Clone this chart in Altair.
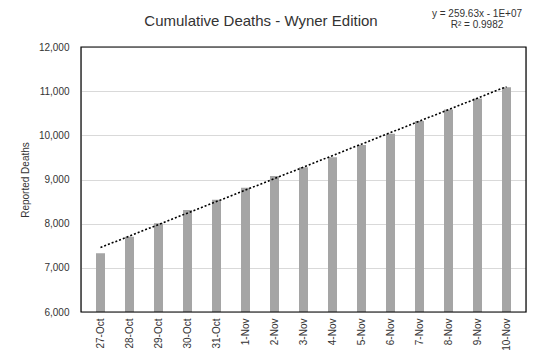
import altair as alt
import pandas as pd

days = ['27-Oct', '28-Oct', '29-Oct', '30-Oct', '31-Oct', '1-Nov', '2-Nov', '3-Nov',
        '4-Nov', '5-Nov', '6-Nov', '7-Nov', '8-Nov', '9-Nov', '10-Nov']
deaths = [7330, 7705, 8008, 8309, 8540, 8815, 9080, 9280, 9505, 9781, 10036, 10326,
          10583, 10832, 11088]
y_ticks = [6000, 7000, 8000, 9000, 10000, 11000, 12000]
title_text = "Cumulative Deaths - Wyner Edition"
equation = "y = 259.63x - 1E+07"
r_squared = "R² = 0.9982"

df = pd.DataFrame({"i": list(range(len(days))), "day": days, "deaths": deaths})

font = "Liberation Sans"
label_expr = "[" + ",".join(f"'{d}'" for d in days) + "][datum.value]"

x = alt.X("i:Q", scale=alt.Scale(domain=[-0.5, len(days) - 0.5], nice=False, zero=False),
          axis=alt.Axis(values=list(range(len(days))), labelExpr=label_expr, labelAngle=-90,
                        labelAlign="right", labelBaseline="middle", grid=False, ticks=False,
                        domain=False, title=None, labelFont=font, labelFontSize=10,
                        labelColor="#333333", labelPadding=6, labelOverlap=False,
                        labelBound=False, labelFlush=False))
y = alt.Y("deaths:Q", scale=alt.Scale(domain=[6000, 12000], nice=False, zero=False),
          axis=alt.Axis(values=y_ticks, format=",.0f", grid=True, gridColor="#d9d9d9",
                        ticks=False, domain=False, title="Reported Deaths", titleFont=font,
                        titleFontSize=10, titleFontWeight="normal", titleColor="#333333",
                        titlePadding=8, labelFont=font, labelFontSize=10,
                        labelColor="#333333", labelPadding=12))

base = alt.Chart(df)
bars = base.mark_bar(color="#a5a5a5", size=9, clip=True).encode(x=x, y=y)
trend = base.transform_regression("i", "deaths", extent=[0, len(days) - 1]).mark_line(
    color="#000000", strokeDash=[2, 2], strokeWidth=1.6).encode(x=x, y=y)

txt_df = pd.DataFrame({"t": [title_text, equation, r_squared], "row": [0, 1, 2]})
frame = alt.Chart(txt_df).transform_filter("datum.row == 0").mark_rect(
    filled=False, stroke="#000000", strokeWidth=1.2).encode(
    x=alt.value(0), x2=alt.value(445), y=alt.value(0), y2=alt.value(265))
title_mark = alt.Chart(txt_df).transform_filter("datum.row == 0").mark_text(
    font=font, fontSize=15, color="#333333", align="center", baseline="alphabetic").encode(
    text="t:N", x=alt.value(180), y=alt.value(-21))
eq1 = alt.Chart(txt_df).transform_filter("datum.row == 1").mark_text(
    font=font, fontSize=10, color="#333333", align="center", baseline="middle").encode(
    text="t:N", x=alt.value(396), y=alt.value(-33))
eq2 = alt.Chart(txt_df).transform_filter("datum.row == 2").mark_text(
    font=font, fontSize=10, color="#333333", align="center", baseline="middle").encode(
    text="t:N", x=alt.value(396), y=alt.value(-22))

chart = alt.layer(bars, trend, frame, title_mark, eq1, eq2).properties(
    width=445, height=265,
    background="white",
    autosize=alt.AutoSizeParams(type="none"),
    padding={"left": 73, "top": 39, "right": 6, "bottom": 40},
).configure_axisX(labelOverlap=False)

chart.save("out.html", embed_options={"renderer": "svg", "actions": False})
